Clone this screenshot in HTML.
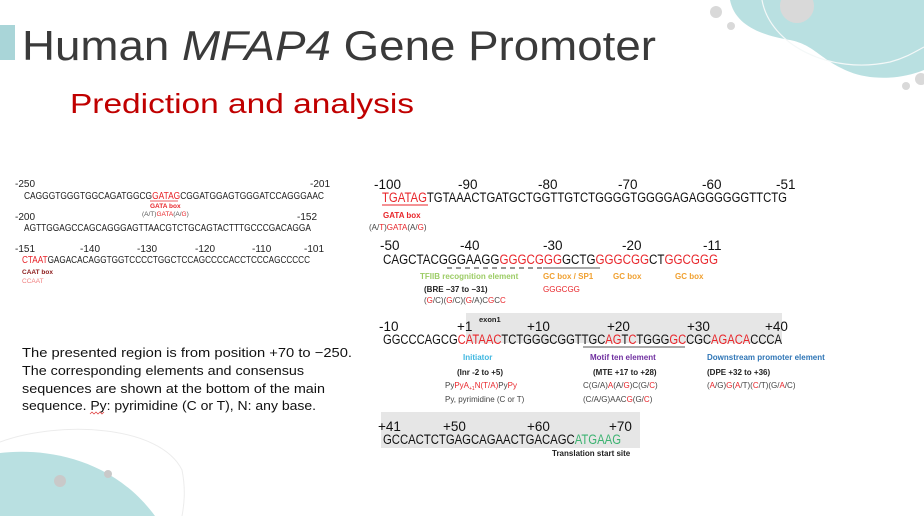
<!DOCTYPE html>
<html><head><meta charset="utf-8"><style>
html,body{margin:0;padding:0;background:#fff;width:924px;height:516px;overflow:hidden}
svg{display:block}
text{font-family:"Liberation Sans",sans-serif}
.s{font-size:10px;fill:#222}
.m{font-size:13.5px;fill:#111}
.r{fill:#e8262b}
.b{font-weight:bold}
</style></head><body>
<svg width="924" height="516" viewBox="0 0 924 516" xmlns="http://www.w3.org/2000/svg">
<!-- decorations -->
<path d="M730 0 L924 0 L924 70 C900 80 870 80 850 72 C820 60 815 45 790 40 C760 35 735 25 730 0 Z" fill="#b9e0e1"/>
<circle cx="797" cy="6" r="17" fill="#d9d9d9"/>
<path d="M762 0 C770 45 830 75 890 62 C905 58 915 52 924 47" fill="none" stroke="#f4f8f8" stroke-width="1.2"/>
<circle cx="716" cy="12" r="6" fill="#d9d9d9"/>
<circle cx="731" cy="26" r="4" fill="#d9d9d9"/>
<circle cx="906" cy="86" r="4" fill="#d9d9d9"/>
<circle cx="921" cy="79" r="6" fill="#d9d9d9"/>
<path d="M0 453 C40 448 110 455 155 516 L0 516 Z" fill="#b9e0e1"/>
<path d="M0 442 C60 420 160 425 182 470 C186 490 184 505 182 516" fill="none" stroke="#ececec" stroke-width="1"/>
<circle cx="60" cy="481" r="6" fill="#c9c9c9"/>
<circle cx="108" cy="474" r="4" fill="#c9c9c9"/>
<!-- title -->
<rect x="0" y="25" width="15" height="35" fill="#a9d5d8"/>
<text x="22" y="60" font-size="42" fill="#3a3a3a" textLength="634" lengthAdjust="spacingAndGlyphs">Human <tspan font-style="italic">MFAP4</tspan> Gene Promoter</text>
<text x="70" y="113" font-size="28" fill="#c00000" textLength="344" lengthAdjust="spacingAndGlyphs">Prediction and analysis</text>
<!-- left sequence -->
<text class="s" x="15" y="187">-250</text><text class="s" x="330" y="187" text-anchor="end">-201</text>
<text class="s" x="24" y="199" textLength="300" lengthAdjust="spacingAndGlyphs">CAGGGTGGGTGGCAGATGGCG<tspan class="r">GATAG</tspan>CGGATGGAGTGGGATCCAGGGAAC</text>
<line x1="150" y1="201" x2="178" y2="201" stroke="#e8262b" stroke-width="0.8"/>
<text x="150" y="208" font-size="6.5" class="b" fill="#e8262b">GATA box</text>
<text x="142" y="216" font-size="6.5" fill="#555">(A/T)<tspan fill="#e8262b">GATA</tspan>(A/<tspan fill="#e8262b">G</tspan>)</text>
<text class="s" x="15" y="220">-200</text><text class="s" x="317" y="220" text-anchor="end">-152</text>
<text class="s" x="24" y="231" textLength="287" lengthAdjust="spacingAndGlyphs">AGTTGGAGCCAGCAGGGAGTTAACGTCTGCAGTACTTTGCCCGACAGGA</text>
<text class="s" x="15" y="252">-151</text><text class="s" x="80" y="252">-140</text><text class="s" x="137" y="252">-130</text><text class="s" x="195" y="252">-120</text><text class="s" x="252" y="252">-110</text><text class="s" x="304" y="252">-101</text>
<text class="s" x="22" y="263" textLength="288" lengthAdjust="spacingAndGlyphs"><tspan class="r">CTAAT</tspan>GAGACACAGGTGGTCCCCTGGCTCCAGCCCCACCTCCCAGCCCCC</text>
<text x="22" y="274" font-size="6.5" class="b" fill="#8b1a1a">CAAT box</text>
<text x="22" y="283" font-size="6.5" fill="#f08080">CCAAT</text>
<!-- paragraph -->
<g font-size="13" fill="#111">
<text x="22" y="357" textLength="330" lengthAdjust="spacingAndGlyphs">The presented region is from position +70 to −250.</text>
<text x="22" y="375" textLength="282" lengthAdjust="spacingAndGlyphs">The corresponding elements and consensus</text>
<text x="22" y="393" textLength="303" lengthAdjust="spacingAndGlyphs">sequences are shown at the bottom of the main</text>
<text x="22" y="410" textLength="294" lengthAdjust="spacingAndGlyphs">sequence. Py: pyrimidine (C or T), N: any base.</text>
</g>
<path d="M90 414 l2 -2 l2 2 l2 -2 l2 2 l2 -2 l2 2 l2 -2" fill="none" stroke="#d33" stroke-width="0.7"/>
<!-- gray boxes -->
<rect x="466" y="313" width="316" height="30" fill="#e6e6e6"/>
<rect x="381" y="412" width="259" height="36" fill="#e6e6e6"/>
<!-- right row 1 -->
<g class="m"><text x="374" y="189">-100</text><text x="458" y="189">-90</text><text x="538" y="189">-80</text><text x="618" y="189">-70</text><text x="702" y="189">-60</text><text x="776" y="189">-51</text></g>
<text class="m" x="382" y="202" textLength="405" lengthAdjust="spacingAndGlyphs"><tspan class="r">TGATAG</tspan>TGTAAACTGATGCTGGTTGTCTGGGGTGGGGAGAGGGGGGTTCTG</text>
<line x1="382" y1="205" x2="428" y2="205" stroke="#e8262b" stroke-width="1"/>
<text x="383" y="218" font-size="8" class="b" fill="#e8262b">GATA box</text>
<text x="369" y="230" font-size="8" fill="#444">(A/<tspan fill="#e8262b">T</tspan>)<tspan fill="#e8262b">GATA</tspan>(A/<tspan fill="#e8262b">G</tspan>)</text>
<!-- row 2 -->
<g class="m"><text x="380" y="250">-50</text><text x="460" y="250">-40</text><text x="543" y="250">-30</text><text x="622" y="250">-20</text><text x="703" y="250">-11</text></g>
<text class="m" x="383" y="264" textLength="335" lengthAdjust="spacingAndGlyphs">CAGCTACGGGAAGG<tspan class="r">GGGCGGG</tspan>GCTG<tspan class="r">GGGCGG</tspan>CT<tspan class="r">GGCGGG</tspan></text>
<line x1="447" y1="268" x2="543" y2="268" stroke="#555" stroke-width="1.2" stroke-dasharray="5,4"/>
<line x1="543" y1="268" x2="600" y2="268" stroke="#555" stroke-width="1"/>
<g font-size="8" class="b">
<text x="420" y="279" fill="#9ccc65">TFIIB recognition element</text>
<text x="543" y="279" fill="#f0a030">GC box / SP1</text>
<text x="613" y="279" fill="#f0a030">GC box</text>
<text x="675" y="279" fill="#f0a030">GC box</text>
<text x="424" y="292" fill="#222">(BRE −37 to −31)</text>
</g>
<text x="543" y="292" font-size="8" fill="#e8262b">GGGCGG</text>
<text x="424" y="303" font-size="8" fill="#444">(<tspan fill="#e8262b">G</tspan>/C)(<tspan fill="#e8262b">G</tspan>/C)(<tspan fill="#e8262b">G</tspan>/A)C<tspan fill="#e8262b">G</tspan>C<tspan fill="#e8262b">C</tspan></text>
<!-- row 3 -->
<g class="m"><text x="379" y="331">-10</text><text x="457" y="331">+1</text><text x="527" y="331">+10</text><text x="607" y="331">+20</text><text x="687" y="331">+30</text><text x="765" y="331">+40</text></g>
<text x="479" y="322" font-size="7.5" class="b" fill="#222">exon1</text>
<text class="m" x="383" y="344" textLength="399" lengthAdjust="spacingAndGlyphs">GGCCCAGCG<tspan class="r">CATAAC</tspan>TCTGGGCGGTTGC<tspan class="r">AG</tspan>T<tspan class="r">C</tspan>TGGG<tspan class="r">GC</tspan>CGC<tspan class="r">AGACA</tspan>CCCA</text>
<line x1="583" y1="347" x2="685" y2="347" stroke="#555" stroke-width="1"/>
<g font-size="8" class="b">
<text x="463" y="360" fill="#3fb7e0">Initiator</text>
<text x="590" y="360" fill="#7030a0">Motif ten element</text>
<text x="707" y="360" fill="#2e75b6">Downstream promoter element</text>
<text x="457" y="375" fill="#222">(Inr -2 to +5)</text>
<text x="593" y="375" fill="#222">(MTE +17 to +28)</text>
<text x="707" y="375" fill="#222">(DPE +32 to +36)</text>
</g>
<g font-size="8" fill="#444">
<text x="445" y="388">Py<tspan fill="#e8262b">PyA<tspan font-size="5" dy="2">+1</tspan><tspan dy="-2">N(T/A)</tspan></tspan>Py<tspan fill="#e8262b">Py</tspan></text>
<text x="445" y="402">Py, pyrimidine (C or T)</text>
<text x="583" y="388">C(G/A)<tspan fill="#e8262b">A</tspan>(A/<tspan fill="#e8262b">G</tspan>)C(G/<tspan fill="#e8262b">C</tspan>)</text>
<text x="583" y="402">(C/A/G)AAC<tspan fill="#e8262b">G</tspan>(G/<tspan fill="#e8262b">C</tspan>)</text>
<text x="707" y="388">(<tspan fill="#e8262b">A</tspan>/G)<tspan fill="#e8262b">G</tspan>(<tspan fill="#e8262b">A</tspan>/T)(<tspan fill="#e8262b">C</tspan>/T)(G/<tspan fill="#e8262b">A</tspan>/C)</text>
</g>
<!-- row 4 -->
<g class="m"><text x="378" y="431">+41</text><text x="443" y="431">+50</text><text x="527" y="431">+60</text><text x="609" y="431">+70</text></g>
<text class="m" x="383" y="444" textLength="238" lengthAdjust="spacingAndGlyphs">GCCACTCTGAGCAGAACTGACAGC<tspan fill="#3cb371">ATGAAG</tspan></text>
<text x="552" y="456" font-size="8" class="b" fill="#222">Translation start site</text>
</svg>
</body></html>
